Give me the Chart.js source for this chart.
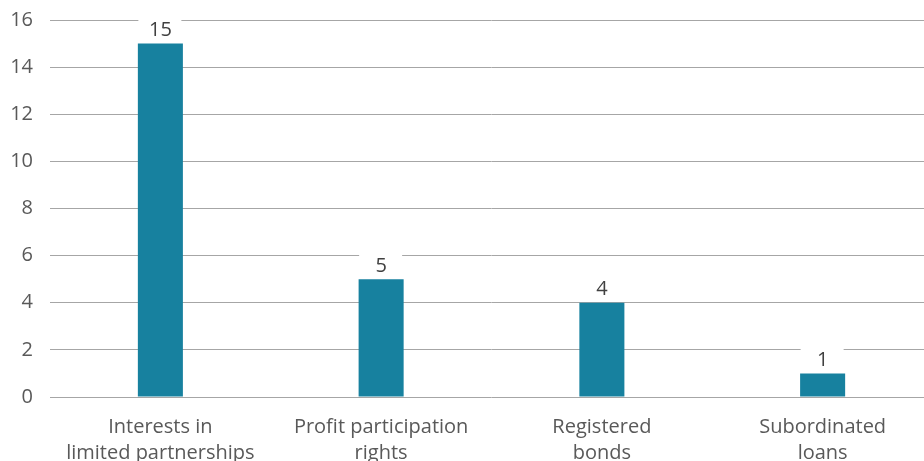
<!DOCTYPE html>
<html>
<head>
<meta charset="utf-8">
<script src="https://cdn.jsdelivr.net/npm/chart.js@4.4.1/dist/chart.umd.min.js"></script>
<style>
  html, body { margin: 0; padding: 0; background: #fff; overflow: hidden; }
  /* chart runs a little past the right edge of the window, like the original */
  #wrap { width: 933px; height: 461px; position: relative; }
</style>
</head>
<body>
<div id="wrap"><canvas id="chart"></canvas></div>
<script>
// Chart data
const categories = [
    ['Interests in', 'limited partnerships'],
    ['Profit participation', 'rights'],
    ['Registered', 'bonds'],
    ['Subordinated', 'loans']
];
const counts = [15, 5, 4, 1];
const yTicks = [0, 2, 4, 6, 8, 10, 12, 14, 16];

const barColor = '#17819f';
const textColor = '#595959';
const fontFamily = '"Open Sans", "Noto Sans", sans-serif';

// Value labels drawn above bars on a white box
const valueLabels = {
    id: 'valueLabels',
    afterDatasetsDraw(chart) {
        const ctx = chart.ctx;
        const meta = chart.getDatasetMeta(0);
        ctx.save();
        ctx.font = '20px ' + fontFamily;
        ctx.textAlign = 'center';
        ctx.textBaseline = 'middle';
        meta.data.forEach((bar, i) => {
            const x = bar.x;
            const y = bar.y - 13;
            ctx.fillStyle = '#ffffff';
            ctx.fillRect(x - 22, y - 12, 43, 24);
            ctx.fillStyle = '#404040';
            ctx.fillText(String(counts[i]), x, y);
        });
        ctx.restore();
    }
};

const ctx = document.getElementById('chart').getContext('2d');
new Chart(ctx, {
    type: 'bar',
    data: {
        labels: categories,
        datasets: [{
            data: counts,
            backgroundColor: barColor,
            barPercentage: 0.408,
            categoryPercentage: 0.5
        }]
    },
    options: {
        responsive: true,
        maintainAspectRatio: false,
        animation: false,
        layout: { padding: 0 },
        plugins: {
            legend: { display: false },
            tooltip: { enabled: false }
        },
        scales: {
            x: {
                grid: { display: false, drawTicks: false },
                border: { display: false },
                ticks: {
                    color: textColor,
                    padding: 17,
                    maxRotation: 0,
                    autoSkip: false,
                    font: { family: fontFamily, size: 20, lineHeight: 1.3 }
                },
                afterFit(axis) { axis.height = 64; }
            },
            y: {
                min: 0,
                max: 16,
                afterBuildTicks(axis) {
                    axis.ticks = yTicks.map(v => ({ value: v }));
                },
                grid: { color: '#a6a6a6', lineWidth: 1, drawTicks: false },
                border: { display: false },
                ticks: {
                    color: textColor,
                    padding: 17,
                    font: { family: fontFamily, size: 20, lineHeight: 0.3 }
                },
                afterFit(axis) { axis.width = 50; }
            }
        }
    },
    plugins: [valueLabels]
});
</script>
</body>
</html>
